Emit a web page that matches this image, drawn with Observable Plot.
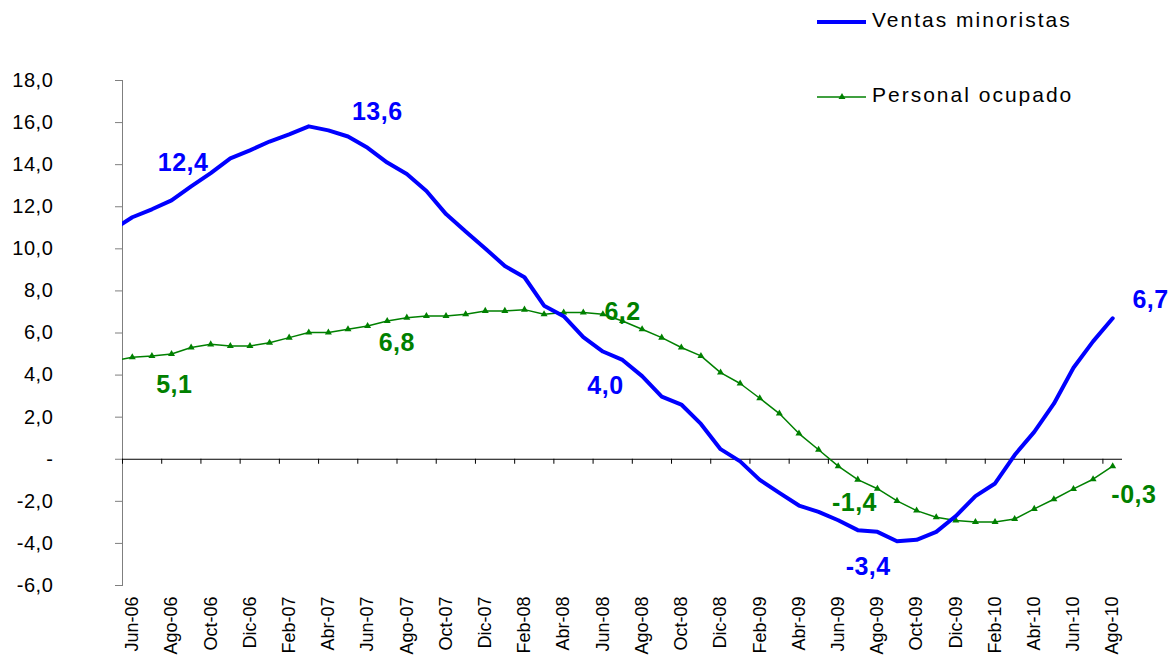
<!DOCTYPE html>
<html><head><meta charset="utf-8">
<script src="https://cdn.jsdelivr.net/npm/d3@7"></script>
<script src="https://cdn.jsdelivr.net/npm/@observablehq/plot@0.6"></script>
<style>
body{margin:0;background:#fff;}
#wrap{position:relative;width:1171px;height:656px;font-family:"Liberation Sans",Arial,sans-serif;}
#legend{position:absolute;left:0;top:0;}
#chart svg g[aria-label="y-axis tick label"] text{letter-spacing:0.6px;}
#chart svg g[aria-label="text"] text{letter-spacing:0.5px;}
</style></head><body>
<div id="wrap"><div id="chart"></div>
<svg id="legend" width="1171" height="120" font-family="Liberation Sans, Arial, sans-serif"></svg></div>
<script>
// Months (first entry, May-06, lies just before the visible axis range)
const meses = ["May-06","Jun-06","Jul-06","Ago-06","Sep-06","Oct-06","Nov-06","Dic-06",
  "Ene-07","Feb-07","Mar-07","Abr-07","May-07","Jun-07","Jul-07","Ago-07","Sep-07","Oct-07","Nov-07","Dic-07",
  "Ene-08","Feb-08","Mar-08","Abr-08","May-08","Jun-08","Jul-08","Ago-08","Sep-08","Oct-08","Nov-08","Dic-08",
  "Ene-09","Feb-09","Mar-09","Abr-09","May-09","Jun-09","Jul-09","Ago-09","Sep-09","Oct-09","Nov-09","Dic-09",
  "Ene-10","Feb-10","Mar-10","Abr-10","May-10","Jun-10","Jul-10","Ago-10"];
const ventas = [10.9,11.5,11.88,12.3,12.97,13.6,14.3,14.68,
  15.1,15.44,15.82,15.63,15.34,14.8,14.1,13.56,12.75,11.65,10.82,10.02,
  9.18,8.65,7.3,6.8,5.8,5.12,4.72,3.95,2.98,2.6,1.68,0.48,
  -0.1,-0.98,-1.6,-2.2,-2.5,-2.9,-3.37,-3.45,-3.9,-3.83,-3.45,-2.7,
  -1.75,-1.15,0.2,1.3,2.64,4.35,5.6,6.7];
const personal = [4.67,4.85,4.91,5.0,5.31,5.46,5.38,5.38,
  5.54,5.78,6.02,6.02,6.18,6.33,6.57,6.73,6.81,6.81,6.89,7.05,
  7.05,7.11,6.89,6.97,6.97,6.89,6.57,6.18,5.78,5.31,4.91,4.12,
  3.6,2.9,2.17,1.22,0.45,-0.33,-0.97,-1.4,-1.98,-2.44,-2.76,-2.91,
  -2.98,-2.98,-2.84,-2.36,-1.9,-1.41,-0.95,-0.33];
const yTicks = [-6,-4,-2,0,2,4,6,8,10,12,14,16,18];
// Annotations: text and anchor (month index, value)
const notasVentasTexto = ["12,4","13,6","4,0","-3,4","6,7"];
const notasVentasMes = [2.59,12.49,24.13,37.53,51.93];
const notasVentasValor = [14.08,16.5,3.5,-5.13,7.55];
const notasPersonalTexto = ["5,1","6,8","6,2","-1,4","-0,3"];
const notasPersonalMes = [2.14,13.49,25.0,36.83,51.08];
const notasPersonalValor = [3.54,5.53,7.0,-2.06,-1.71];

const AZUL = "#0000ff", VERDE = "#008000";
const dataV = meses.map((m,k)=>({i:k-1, v:ventas[k]}));
const dataP = meses.map((m,k)=>({i:k-1, v:personal[k]}));
const notasV = notasVentasTexto.map((t,k)=>({t, i:notasVentasMes[k], v:notasVentasValor[k]}));
const notasP = notasPersonalTexto.map((t,k)=>({t, i:notasPersonalMes[k], v:notasPersonalValor[k]}));
const fmt = d => d === 0 ? "-" : d.toFixed(1).replace(".", ",");

const chart = Plot.plot({
  width:1171, height:656,
  marginLeft:122, marginRight:49, marginTop:80, marginBottom:71,
  style:{fontFamily:"Liberation Sans, Arial, sans-serif", background:"white", overflow:"visible", color:"black"},
  x:{type:"linear", domain:[-0.5,50.5]},
  y:{domain:[-6,18]},
  marks:[
    Plot.frame({anchor:"left", stroke:"#7f7f7f"}),
    Plot.axisY({ticks:yTicks, tickFormat:fmt, tickSize:7, tickPadding:62, fontSize:20, stroke:"#7f7f7f", fill:"black", label:null}),
    Plot.axisX({ticks:d3.range(0,51,2), tickFormat:i=>meses[i+1], tickRotate:-90, tickSize:0, tickPadding:11, fontSize:18, fill:"black", label:null}),
    Plot.ruleY([0], {stroke:"black", strokeWidth:1}),
    Plot.ruleX(d3.range(-0.5,50,2), {y1:0, y2:0, insetBottom:-5, stroke:"black"}),
    Plot.line(dataP, {x:"i", y:"v", stroke:VERDE, strokeWidth:1.5, clip:true}),
    Plot.dot(dataP.filter(d=>d.i>=0), {x:"i", y:"v", symbol:"triangle", r:2.6, fill:VERDE, stroke:"none"}),
    Plot.line(dataV, {x:"i", y:"v", stroke:AZUL, strokeWidth:4, strokeLinejoin:"round", clip:true}),
    Plot.text(notasV, {x:"i", y:"v", text:"t", fill:AZUL, fontSize:25, fontWeight:"bold", textAnchor:"middle", lineAnchor:"middle"}),
    Plot.text(notasP, {x:"i", y:"v", text:"t", fill:VERDE, fontSize:25, fontWeight:"bold", textAnchor:"middle", lineAnchor:"middle"})
  ]
});
document.getElementById("chart").appendChild(chart);

// Legend
const leg = d3.select("#legend");
const series = [
  {name:"Ventas minoristas", color:AZUL, w:4, y:22, marker:false},
  {name:"Personal ocupado", color:VERDE, w:1.5, y:97, marker:true}
];
series.forEach(s=>{
  leg.append("line").attr("x1",817).attr("x2",866).attr("y1",s.y).attr("y2",s.y)
    .attr("stroke",s.color).attr("stroke-width",s.w);
  if (s.marker) leg.append("path").attr("d", d3.symbol(d3.symbolTriangle, 21)()).attr("transform",`translate(842,${s.y})`).attr("fill",s.color);
  leg.append("text").attr("x",872).attr("y",s.y+5).attr("font-size",21).attr("letter-spacing","2px").attr("fill","black").text(s.name);
});
</script>
</body></html>
